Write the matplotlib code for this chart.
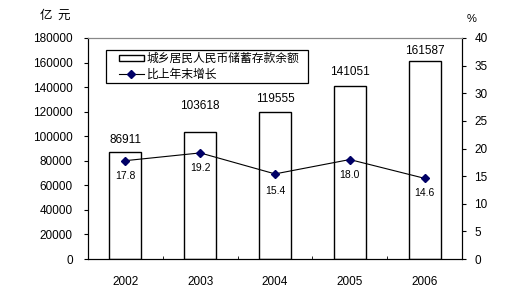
import matplotlib
matplotlib.use("Agg")
import matplotlib.pyplot as plt
from matplotlib.ticker import FixedLocator
from matplotlib.patches import Rectangle
import numpy as np

years = ["2002", "2003", "2004", "2005", "2006"]
deposits = [86911, 103618, 119555, 141051, 161587]
growth = [17.8, 19.2, 15.4, 18.0, 14.6]
bar_name = "城乡居民人民币储蓄存款余额"
line_name = "比上年末增长"

# label placement offsets (pixels above bar top / below marker)
bar_label_gap_px = [12, 26, 13, 14, 10]
line_label_gap_px = [15, 15, 17, 15, 15]

plt.rcParams['font.family'] = ['Liberation Sans', 'Noto Sans CJK SC', 'DejaVu Sans']
cjk = ['Noto Sans CJK SC', 'DejaVu Sans']

W, H = 524, 300
fig = plt.figure(figsize=(W/100, H/100), dpi=100)
ax = fig.add_axes([88/W, 1-259/H, (462-88)/W, (259-38)/H])
ax2 = ax.twinx()

x = np.arange(len(years))
bars = ax.bar(x, deposits, width=0.43, facecolor='white', edgecolor='black', linewidth=1.0, zorder=2,
              label=bar_name)
ax.set_xlim(-0.5, len(years)-0.5)
ax.set_ylim(0, 180000)
ax.set_yticks(np.arange(0, 180001, 20000))
ax.set_xticks(x)
ax.set_xticklabels(years)
ax.xaxis.set_minor_locator(FixedLocator(np.arange(0.5, len(years)-1, 1.0)))
ax.tick_params(axis='x', which='major', length=0, pad=12, labelsize=8.5)
ax.tick_params(axis='x', which='minor', length=2.5, direction='in')
ax.tick_params(axis='y', length=3, direction='out', labelsize=8.5, pad=8)
for v, xi, g in zip(deposits, x, bar_label_gap_px):
    ax.annotate(str(v), (xi, v), xytext=(0, g*0.72), textcoords='offset points',
                ha='center', va='center', fontsize=8.5)

ln, = ax2.plot(x, growth, color='black', linewidth=0.8, marker='D', markersize=3.8,
               markerfacecolor='#000066', markeredgecolor='#000066', zorder=3, label=line_name)
ax2.set_ylim(0, 40)
ax2.set_yticks(np.arange(0, 41, 5))
ax2.tick_params(axis='y', length=3, direction='out', labelsize=8.5, pad=6)
for v, xi, g in zip(growth, x, line_label_gap_px):
    ax2.annotate(f"{v:.1f}", (xi, v), xytext=(0, -g*0.72), textcoords='offset points',
                 ha='center', va='center', fontsize=7.5)

for a in (ax, ax2):
    a.spines['top'].set_color('#888888')
    for s in ('top', 'left', 'right', 'bottom'):
        a.spines[s].set_linewidth(0.8)

leg = ax.legend(handles=[bars, ln], loc='upper left',
                bbox_to_anchor=(119/W, 1-52/H), bbox_transform=fig.transFigure,
                frameon=False, prop={'family': cjk, 'size': 8.5},
                handlelength=2.1, handleheight=0.45, borderpad=0, borderaxespad=0,
                labelspacing=0.25, handletextpad=0.25)
leg.set_zorder(5)
fig.patches.append(Rectangle((106/W, 1-83/H), (308-106)/W, (83-50)/H, transform=fig.transFigure,
                             facecolor='none', edgecolor='black', linewidth=0.9, zorder=6))

fig.text(55/W, 1-15/H, "亿  元", ha='center', va='center', fontsize=9, family=cjk)
fig.text(472/W, 1-19/H, "%", ha='center', va='center', fontsize=8)

fig.savefig("out.png", dpi=100)
